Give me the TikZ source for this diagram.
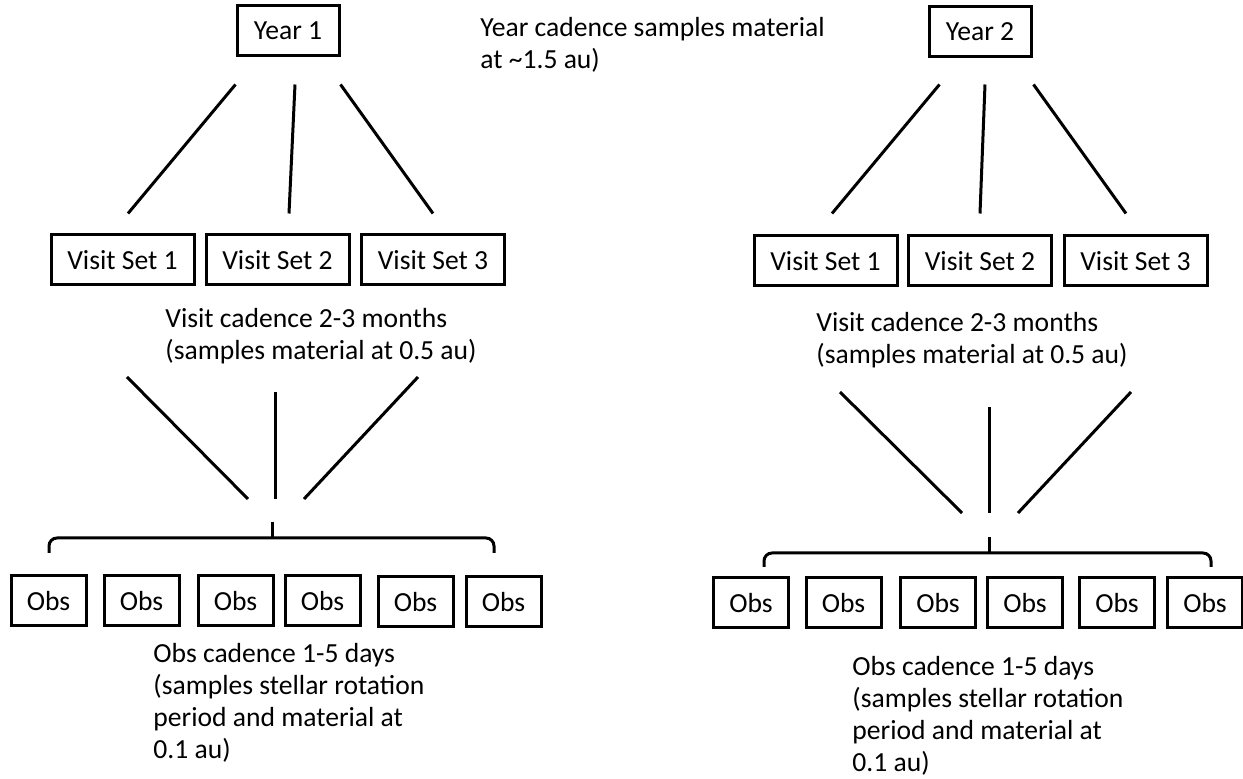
\documentclass[tikz,border=0pt]{standalone}
\usepackage{fontspec}
\setmainfont{Carlito}
\usetikzlibrary{positioning}

\begin{document}
\begin{tikzpicture}[
  x=0.5pt, y=-0.5pt,
  box/.style={draw, line width=1.5pt, minimum height=25pt, inner sep=0pt,
    font=\fontsize{13.8}{16}\selectfont},
  yearbox/.style={box, minimum width=51pt},
  visitbox/.style={box, minimum width=71.5pt},
  obsbox/.style={box, minimum width=37.5pt},
  note/.style={anchor=west, align=left, inner sep=0pt,
    font=\fontsize{13.8}{16}\selectfont},
  link/.style={draw, line width=1.5pt}
]
  \useasboundingbox (0,0) rectangle (1243,779);
  % years
  \node[yearbox] (y1) at (288,31) {Year 1};
  \node[yearbox] (y2) at (980,32) {Year 2};
  \node[note] (yearnote) at (480,45) {Year cadence samples material\\at \textasciitilde1.5 au)};
  % visit sets
  \node[visitbox] (v11) at (122.5,260) {Visit Set 1};
  \node[visitbox] (v12) at (277.5,260) {Visit Set 2};
  \node[visitbox] (v13) at (433,260) {Visit Set 3};
  \node[visitbox] (v21) at (825.5,261) {Visit Set 1};
  \node[visitbox] (v22) at (980,261) {Visit Set 2};
  \node[visitbox] (v23) at (1135.5,261) {Visit Set 3};
  \node[note] (visitnote1) at (165,336) {Visit cadence 2-3 months\\(samples material at 0.5 au)};
  \node[note] (visitnote2) at (816,340) {Visit cadence 2-3 months\\(samples material at 0.5 au)};
  % observations
  \node[obsbox] (o11) at (48.5,601) {Obs};
  \node[obsbox] (o12) at (141.5,601) {Obs};
  \node[obsbox] (o13) at (235.5,601) {Obs};
  \node[obsbox] (o14) at (322.5,601) {Obs};
  \node[obsbox] (o15) at (415.5,602) {Obs};
  \node[obsbox] (o16) at (503.5,602) {Obs};
  \node[obsbox] (o21) at (751,603) {Obs};
  \node[obsbox] (o22) at (843.5,603) {Obs};
  \node[obsbox] (o23) at (938,603) {Obs};
  \node[obsbox] (o24) at (1025,603) {Obs};
  \node[obsbox] (o25) at (1117,603) {Obs};
  \node[obsbox] (o26) at (1205,603) {Obs};
  \node[note] (obsnote1) at (153,703) {Obs cadence 1-5 days\\(samples stellar rotation\\period and material at\\0.1 au)};
  \node[note] (obsnote2) at (852,716) {Obs cadence 1-5 days\\(samples stellar rotation\\period and material at\\0.1 au)};
  % year -> visit sets
  \draw[link] ([shift={(0,27)}]y1.south west) -- ([shift={(5.5,-20)}]v11.north);
  \draw[link] ([shift={(7,27)}]y1.south) -- ([shift={(11.5,-20)}]v12.north);
  \draw[link] ([shift={(0,27)}]y1.south east) -- ([shift={(0,-20)}]v13.north);
  \draw[link] ([shift={(12,26)}]y2.south west) -- ([shift={(6.5,-21)}]v21.north);
  \draw[link] ([shift={(5,26)}]y2.south) -- ([shift={(0,-21)}]v22.north);
  \draw[link] ([shift={(1,26)}]y2.south east) -- ([shift={(-9.5,-21)}]v23.north);
  % visit sets -> observations
  \coordinate (tip1) at (272,522);
  \coordinate (tip2) at (989,537);
  \draw[link] ([shift={(-145,-145)}]tip1) -- ([shift={(-24,-23)}]tip1);
  \draw[link] ([shift={(3,-130)}]tip1) -- ([shift={(3,-23)}]tip1);
  \draw[link] ([shift={(146,-145)}]tip1) -- ([shift={(32,-23)}]tip1);
  \draw[link] ([shift={(-149,-145)}]tip2) -- ([shift={(-27,-24)}]tip2);
  \draw[link] ([shift={(0,-130)}]tip2) -- ([shift={(0,-24)}]tip2);
  \draw[link] ([shift={(142,-145)}]tip2) -- ([shift={(29,-24)}]tip2);
  % brackets
  \draw[link] (tip1) -- ++(0,16);
  \draw[link, rounded corners=4] (49,553) -- (49,538) -- (494,538) -- (494,553);
  \draw[link] (tip2) -- ++(0,16);
  \draw[link, rounded corners=4] (764,567) -- (764,553) -- (1211,553) -- (1211,567);
\end{tikzpicture}
\end{document}
